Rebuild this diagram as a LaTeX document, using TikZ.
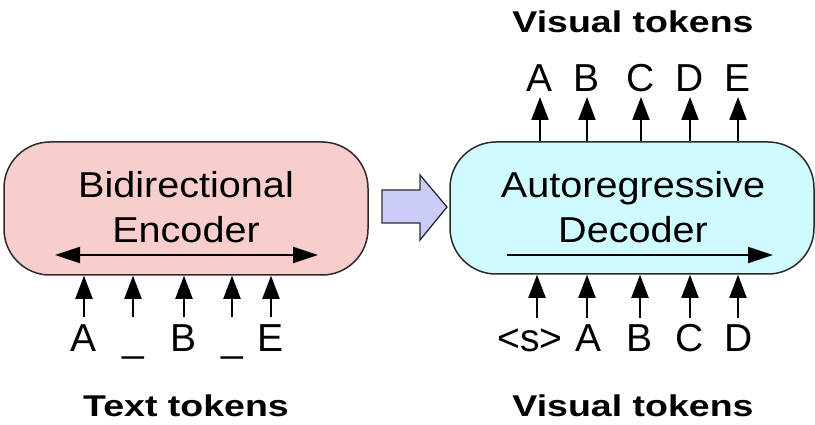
\documentclass[tikz,border=0pt]{standalone}
\usepackage{fontspec}
\setmainfont{Liberation Sans}
\newfontfamily\boxfont[FakeStretch=1.1]{Liberation Sans}
\newfontfamily\labfont[FakeStretch=1.25]{Liberation Sans}
\usetikzlibrary{arrows.meta}
\definecolor{encfill}{HTML}{F8CECC}
\definecolor{decfill}{HTML}{CFFBFF}
\definecolor{blkfill}{HTML}{CCCCF8}
\definecolor{edge}{HTML}{2B2B2B}
\tikzset{
  block/.style={draw=edge, line width=1.5pt, rounded corners=46pt, inner sep=0pt},
  boxtext/.style={anchor=base, inner sep=0pt, font=\boxfont\fontsize{36}{40}\selectfont},
  tok/.style={anchor=base, inner sep=0pt, font=\fontsize{39}{42}\selectfont},
  lab/.style={anchor=base, inner sep=0pt, font=\labfont\bfseries\fontsize{30}{34}\selectfont},
  tokarrow/.style={line width=1.9pt, -{Triangle[length=23pt,width=17pt]}},
  flow/.style={line width=1.9pt},
  bigarrow/.style={draw=edge, line width=1.3pt, fill=blkfill, line join=miter},
}
\begin{document}
\begin{tikzpicture}[x=1pt,y=-1pt]
\useasboundingbox (0,0) rectangle (815,425);

% encoder and decoder blocks
\node[block, fill=encfill, minimum width=364pt, minimum height=133pt] (enc) at (186,208.5) {};
\node[block, fill=decfill, minimum width=364pt, minimum height=132pt] (dec) at (632,208) {};

\node[boxtext] (encA) at (186,198) {Bidirectional};
\node[boxtext] (encB) at (186,243) {Encoder};
\node[boxtext] (decA) at (633,198) {Autoregressive};
\node[boxtext] (decB) at (633,243) {Decoder};

% attention direction inside the blocks
\coordinate (el) at (55,255);
\coordinate (er) at (318,255);
\draw[flow, {Triangle[length=25pt,width=16pt]}-{Triangle[length=25pt,width=16pt]}] (el) -- (er);
\coordinate (dl) at (507,255);
\coordinate (dr) at (773,255);
\draw[flow, -{Triangle[length=25pt,width=16pt]}] (dl) -- (dr);

% block arrow from encoder to decoder
\coordinate (bt) at (382,190);
\coordinate (tip) at (447,207);
\draw[bigarrow] (bt) -- (420,190) -- (420,175) -- (tip) -- (420,240) -- (420,223)
  -- (382,223) -- cycle;

% text tokens into the encoder
\foreach \x/\t [count=\i] in {84/A,133/\_,184/B,232/\_,271/E}{
  \node[tok] (in\i) at (\x,352) {\t};
  \coordinate (it\i) at (\x,317);
  \draw[tokarrow] (it\i) -- (it\i |- enc.south);
}

% visual tokens into the decoder
\foreach \x/\lx/\t [count=\i] in {537/530/{<s>},587/589/A,640/640/B,690/690/C,738/739/D}{
  \node[tok] (din\i) at (\lx,352) {\t};
  \coordinate (dt\i) at (\x,318);
  \draw[tokarrow] (dt\i) -- (dt\i |- dec.south);
}

% visual tokens out of the decoder
\foreach \x/\t [count=\i] in {540/A,587/B,641/C,690/D,738/E}{
  \node[tok] (out\i) at (\x,92) {\t};
  \coordinate (oh\i) at (\x,97);
  \draw[tokarrow] (oh\i |- dec.north) -- (oh\i);
}

% row captions
\node[lab] (capT) at (633,33) {Visual tokens};
\node[lab] (capL) at (186,416) {Text tokens};
\node[lab] (capR) at (633,416) {Visual tokens};
\end{tikzpicture}
\end{document}
